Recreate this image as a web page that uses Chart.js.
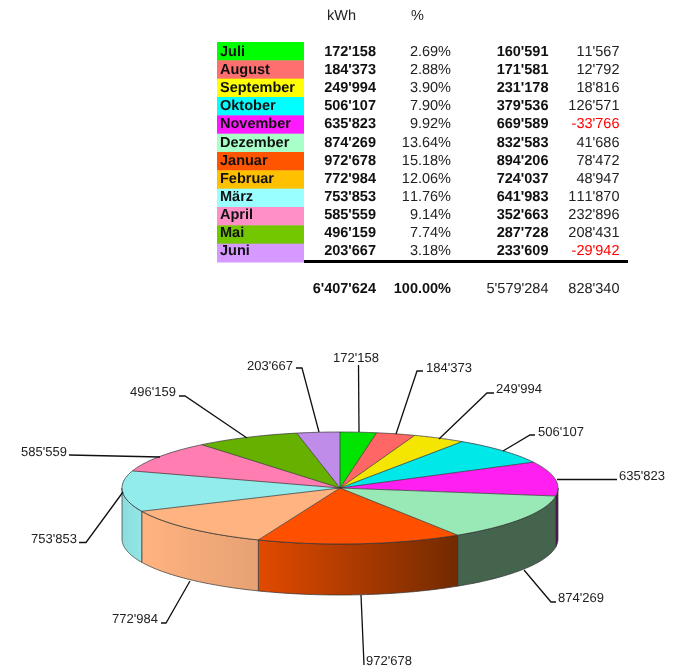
<!DOCTYPE html>
<html>
<head>
<meta charset="utf-8">
<style>html,body{margin:0;padding:0;background:#fff}canvas{display:block}</style>
<script src="https://cdn.jsdelivr.net/npm/chart.js@4"></script>
</head>
<body>
<canvas id="c" width="673" height="667"></canvas>
<script>
// ---- data ----
const months = ['Juli','August','September','Oktober','November','Dezember','Januar','Februar','März','April','Mai','Juni'];
const kwh = [172158,184373,249994,506107,635823,874269,972678,772984,753853,585559,496159,203667];
const percent = [2.69,2.88,3.90,7.90,9.92,13.64,15.18,12.06,11.76,9.14,7.74,3.18];
const previous = [160591,171581,231178,379536,669589,832583,894206,724037,641983,352663,287728,233609];
const difference = [11567,12792,18816,126571,-33766,41686,78472,48947,111870,232896,208431,-29942];
const totals = [6407624,100.00,5579284,828340];
const columnHeads = ['kWh','%'];

// ---- style ----
const legendColors = ['#00FF00','#FF6F6F','#FFFF00','#00FFFF','#FF19FF','#A8FFC8','#FF5500','#FFC000','#99FFFF','#FF8FC7','#73C700','#D699FF'];
const sliceColors = ['#00E400','#FF6666','#F4E600','#00E8E8','#FF1FF0','#98E9B5','#FF5000','#FFB380','#93ECEC','#FF7DB0','#66B000','#BF8CEA'];
const wallFrom = {4:'#5A0F5A',5:'#44644E',6:'#E24A00',7:'#FFB380',8:'#8CDCDC'};
const wallTo   = {4:'#5A0F5A',5:'#44644E',6:'#722A00',7:'#E6A174',8:'#93E6E6'};
const fmt = n => { const s = String(Math.abs(n)).replace(/\B(?=(\d{3})+(?!\d))/g, "'"); return (n<0?'-':'')+s; };
const pct = p => p.toFixed(2)+'%';

// ---- view geometry of the tilted pie ----
const CX=340, CY=488, RX=218, RY=56, DEPTH=51;
const proj = (a,d=0) => [CX+RX*Math.cos(a), CY+RY*Math.sin(a)+d];

// label placement: [text x, baseline y, leader polyline]
const labelLayout = [
 [333,362,[[358.5,365],[359,432]]],
 [426,372,[[423,371],[417,371],[396,434]]],
 [496,393,[[494,393],[487,393],[439,439]]],
 [538,436,[[535,435],[530,435],[503,451]]],
 [619,480,[[617,479.5],[557,479.5]]],
 [558,602,[[556,602],[551,602],[524,570]]],
 [366,664.5,[[364,665],[361,595]]],
 [112,623,[[161,623],[166,623],[190,581]]],
 [31,542.5,[[79,542.5],[86,542.5],[123,492]]],
 [21,455.5,[[69,455],[160,457]]],
 [130,396,[[179,396],[185,396],[247,438]]],
 [247,369.5,[[296,368],[302,368],[319,432]]]
];

const pie3d = {
  id:'pie3d',
  beforeDatasetDraw(chart,args){
    const ctx=chart.ctx, meta=args.meta, arcs=meta.data, lo=0, hi=Math.PI;
    // side walls
    arcs.forEach((arc,i)=>{
      const s=Math.max(arc.startAngle,lo), e=Math.min(arc.endAngle,hi);
      if(e<=s) return;
      const n=40; ctx.beginPath();
      for(let j=0;j<=n;j++){const p=proj(s+(e-s)*j/n); j?ctx.lineTo(p[0],p[1]):ctx.moveTo(p[0],p[1]);}
      for(let j=n;j>=0;j--){const p=proj(s+(e-s)*j/n,DEPTH); ctx.lineTo(p[0],p[1]);}
      ctx.closePath();
      const x0=proj(e)[0], x1=proj(s)[0];
      const g=ctx.createLinearGradient(x0,0,x1,0);
      g.addColorStop(0,wallFrom[i]); g.addColorStop(1,wallTo[i]);
      ctx.fillStyle=g; ctx.fill();
      ctx.strokeStyle='rgba(50,50,50,.7)'; ctx.lineWidth=1; ctx.stroke();
    });
    // top face: the library draws its arcs through the tilted view
    const sy=RY/RX, cx=arcs[0].x, cy=arcs[0].y;
    ctx.save();
    ctx.setTransform(1,0,0,sy,CX-cx,CY-sy*cy);
    meta.controller.draw();
    ctx.restore();
    // edges of the top face
    ctx.save();
    ctx.strokeStyle='rgba(50,50,50,.72)'; ctx.lineWidth=1;
    arcs.forEach(arc=>{
      const p=proj(arc.startAngle);
      ctx.beginPath(); ctx.moveTo(CX,CY); ctx.lineTo(p[0],p[1]); ctx.stroke();
      ctx.beginPath();
      const n=40;
      for(let j=0;j<=n;j++){const q=proj(arc.startAngle+(arc.endAngle-arc.startAngle)*j/n); j?ctx.lineTo(q[0],q[1]):ctx.moveTo(q[0],q[1]);}
      ctx.stroke();
    });
    ctx.restore();
    return false;
  },
  afterDraw(chart){
    const ctx=chart.ctx;
    ctx.save();
    ctx.fontKerning='none';
    ctx.textRendering='geometricPrecision';
    // leaders and pie labels
    ctx.strokeStyle='#111'; ctx.lineWidth=1.3; ctx.fillStyle='#222';
    ctx.font='13px "Liberation Sans"'; ctx.textAlign='left'; ctx.textBaseline='alphabetic';
    kwh.forEach((v,i)=>{
      const [tx,ty,line]=labelLayout[i];
      ctx.beginPath(); line.forEach((p,j)=>j?ctx.lineTo(p[0],p[1]):ctx.moveTo(p[0],p[1])); ctx.stroke();
      ctx.fillText(fmt(v),tx,ty);
    });
    // table
    const bold='bold 14.5px "Liberation Sans"', reg='14.5px "Liberation Sans"';
    const bandTop=42, bandH=220/12, base0=56, dBase=18.12;
    const right=(t,x,y,f,col)=>{ctx.font=f;ctx.textAlign='right';ctx.fillStyle=col||'#222';ctx.fillText(t,x,y);};
    ctx.font=reg; ctx.textAlign='left'; ctx.fillStyle='#222';
    ctx.fillText(columnHeads[0],327,20); ctx.fillText(columnHeads[1],411,20);
    months.forEach((m,i)=>{
      ctx.fillStyle=legendColors[i];
      ctx.fillRect(217,bandTop+i*bandH,87,bandH+0.5);
    });
    months.forEach((m,i)=>{
      const y=base0+i*dBase;
      ctx.font=bold; ctx.textAlign='left'; ctx.fillStyle='#111';
      ctx.fillText(m,220,y);
      right(fmt(kwh[i]),376,y,bold,'#111');
      right(pct(percent[i]),451,y,reg);
      right(fmt(previous[i]),548.5,y,bold,'#111');
      right(fmt(difference[i]),619.5,y,reg,difference[i]<0?'#FF0000':'#222');
    });
    ctx.fillStyle='#000'; ctx.fillRect(304,260,324,3);
    right(fmt(totals[0]),376,292.7,bold,'#111');
    right(totals[1].toFixed(2)+'%',451,292.7,bold,'#111');
    right(fmt(totals[2]),548.5,292.7,reg);
    right(fmt(totals[3]),619.5,292.7,reg);
    ctx.restore();
  }
};

new Chart(document.getElementById('c'),{
  type:'pie',
  data:{labels:months,datasets:[{data:kwh,backgroundColor:sliceColors,borderWidth:0}]},
  options:{
    responsive:false,animation:false,radius:RX,rotation:0,
    layout:{padding:0},
    plugins:{legend:{display:false},tooltip:{enabled:false}}
  },
  plugins:[pie3d]
});
</script>
</body>
</html>
